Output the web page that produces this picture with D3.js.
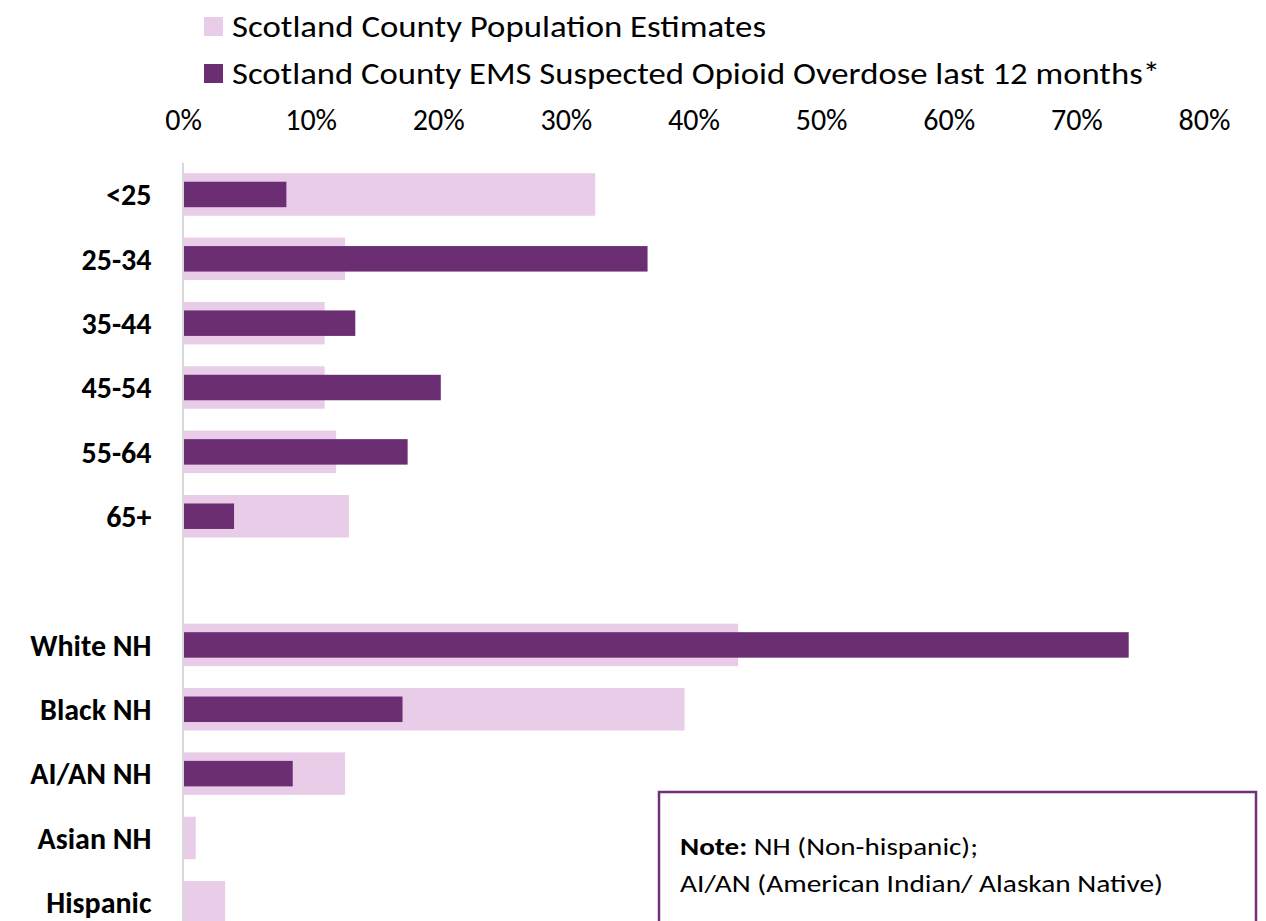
<!DOCTYPE html>
<html>
<head>
<script src="https://d3js.org/d3.v7.min.js"></script>
  <style type="text/css">
    body {
      margin: 0;
      background: #fff;
      font-family: Calibri, Carlito, Lato, "Open Sans", sans-serif;
    }
    .tick text { fill: #000; }
  </style>
</head>
<body>
<script type="text/javascript">

  // categories ("" is the empty row between the age and race groups)
  var categories = ["<25", "25-34", "35-44", "45-54", "55-64", "65+", "",
                    "White NH", "Black NH", "AI/AN NH", "Asian NH", "Hispanic"];
  // share of each group, in percent
  var population = [32.3, 12.7, 11.1, 11.1, 12.0, 13.0, null,
                    43.5, 39.3, 12.7, 1.0, 3.3];
  var overdose   = [8.1, 36.4, 13.5, 20.2, 17.6, 4.0, null,
                    74.1, 17.2, 8.6, null, null];
  var tickValues = [0, 10, 20, 30, 40, 50, 60, 70, 80];
  var seriesNames = ["Scotland County Population Estimates",
                     "Scotland County EMS Suspected Opioid Overdose last 12 months*"];
  var noteLines = ["NH (Non-hispanic);", "AI/AN (American Indian/ Alaskan Native)"];

  var lightColor = "#e8cce8";
  var darkColor = "#6b2e73";

  var width = 1266, height = 921;

  var svg = d3.select("body").append("svg")
      .attr("width", width)
      .attr("height", height);

  var x = d3.scaleLinear()
      .domain([0, 80])
      .range([183, 1204]);

  var y = d3.scaleBand()
      .domain(categories)
      .range([162.3, 934.5])
      .paddingInner(0.34)
      .paddingOuter(0.17);

  var rows = categories.map(function(c, i) {
    return {cat: c, pop: population[i], ems: overdose[i]};
  });

  // population bars (wide, light)
  svg.selectAll(".pop")
      .data(rows.filter(function(d) { return d.pop != null; }))
    .enter().append("rect")
      .attr("class", "pop")
      .attr("x", x(0))
      .attr("y", function(d) { return y(d.cat); })
      .attr("width", function(d) { return x(d.pop) - x(0); })
      .attr("height", y.bandwidth())
      .attr("fill", lightColor);

  // overdose bars (narrow, dark), drawn on top
  var inner = y.bandwidth() * 0.6;
  svg.selectAll(".ems")
      .data(rows.filter(function(d) { return d.ems != null; }))
    .enter().append("rect")
      .attr("class", "ems")
      .attr("x", x(0))
      .attr("y", function(d) { return y(d.cat) + (y.bandwidth() - inner) / 2; })
      .attr("width", function(d) { return x(d.ems) - x(0); })
      .attr("height", inner)
      .attr("fill", darkColor);

  // top axis with percent labels
  var xAxis = d3.axisTop(x)
      .tickValues(tickValues)
      .tickSize(0)
      .tickPadding(0)
      .tickFormat(function(d) { return d + "%"; });

  var gx = svg.append("g")
      .attr("transform", "translate(0,130)")
      .call(xAxis);
  gx.select(".domain").remove();
  gx.selectAll("text")
      .attr("dy", 0)
      .style("font-family", "Calibri, Carlito, Lato, sans-serif")
      .style("font-size", "30px");

  // category axis
  var yAxis = d3.axisLeft(y)
      .tickSize(0)
      .tickPadding(31);

  var gy = svg.append("g")
      .attr("transform", "translate(" + (x(0) - 0.5) + ",0)")
      .call(yAxis);
  gy.select(".domain")
      .attr("stroke", "#d9d9d9")
      .attr("stroke-width", 2);
  gy.selectAll("text")
      .attr("dy", "0.36em")
      .style("font-family", "Calibri, Carlito, Lato, sans-serif")
      .style("font-weight", "bold")
      .style("font-size", "30px");

  // legend
  var legendY = [37, 84];
  var legendW = [534, 928];
  var legend = svg.selectAll(".legend")
      .data(seriesNames)
    .enter().append("g")
      .attr("class", "legend")
      .attr("transform", function(d, i) { return "translate(204," + legendY[i] + ")"; });

  legend.append("rect")
      .attr("x", 0)
      .attr("y", -20)
      .attr("width", 19)
      .attr("height", 19)
      .attr("fill", function(d, i) { return i == 0 ? lightColor : darkColor; });

  legend.append("text")
      .attr("x", 28)
      .attr("y", 0)
      .attr("textLength", function(d, i) { return legendW[i]; })
      .attr("lengthAdjust", "spacingAndGlyphs")
      .style("font-size", "30px")
      .text(function(d) { return d; });

  // note box
  svg.append("rect")
      .attr("x", 659)
      .attr("y", 792)
      .attr("width", 597)
      .attr("height", 160)
      .attr("fill", "#fff")
      .attr("stroke", "#70307a")
      .attr("stroke-width", 2.5);

  var note1 = svg.append("text")
      .attr("x", 680)
      .attr("y", 855)
      .attr("textLength", 298)
      .attr("lengthAdjust", "spacingAndGlyphs")
      .style("font-size", "25px");
  note1.append("tspan").style("font-weight", "bold").text("Note:");
  note1.append("tspan").text(" " + noteLines[0]);

  svg.append("text")
      .attr("x", 680)
      .attr("y", 892)
      .attr("textLength", 483)
      .attr("lengthAdjust", "spacingAndGlyphs")
      .style("font-size", "25px")
      .text(noteLines[1]);

</script>
</body>
</html>
